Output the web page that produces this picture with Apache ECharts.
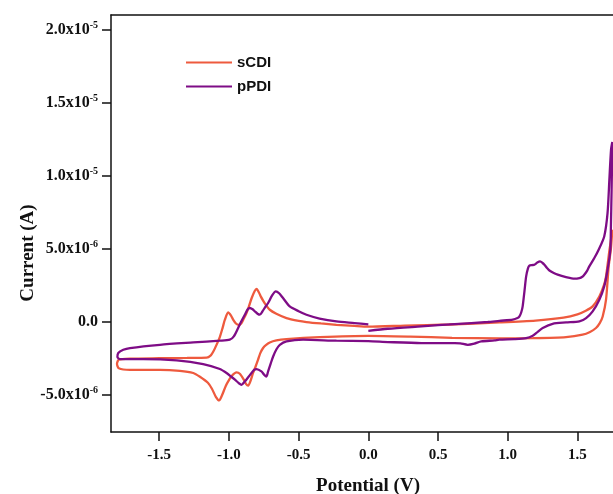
<!DOCTYPE html>
<html>
<head>
<meta charset="utf-8">
<script src="https://cdn.jsdelivr.net/npm/echarts@6/dist/echarts.min.js"></script>
<style>html,body{margin:0;padding:0;background:#fff;}#c{width:613px;height:494px;}</style>
</head>
<body>
<div id="c"></div>
<script>
// Potential (V) and current (in units of 1e-6 A)
var scdiV = [-1.794,-1.71,-1.50,-1.30,-1.16,-1.13,-1.113,-1.09,-1.065,-1.045,-1.029,-1.006,-0.985,-0.970,-0.950,-0.930,-0.912,-0.895,-0.874,-0.855,-0.836,-0.815,-0.802,-0.785,-0.770,-0.755,-0.735,-0.707,-0.66,-0.587,-0.50,-0.444,-0.34,-0.229,-0.10,0.0,0.26,0.58,0.94,1.20,1.40,1.50,1.56,1.609,1.657,1.69,1.705,1.73,1.745,1.750,
  1.740,1.724,1.705,1.681,1.66,1.633,1.59,1.537,1.418,1.179,0.94,0.60,0.30,0.0,-0.349,-0.587,-0.66,-0.707,-0.735,-0.755,-0.775,-0.791,-0.810,-0.827,-0.845,-0.862,-0.878,-0.893,-0.922,-0.946,-0.979,-1.000,-1.022,-1.051,-1.070,-1.094,-1.122,-1.151,-1.208,-1.256,-1.352,-1.495,-1.710,-1.790,-1.803,-1.794];
var scdiI = [-2.60,-2.53,-2.50,-2.48,-2.46,-2.30,-2.06,-1.60,-1.03,-0.40,0.14,0.64,0.42,0.14,-0.12,-0.22,-0.12,0.18,0.60,1.10,1.64,2.10,2.24,2.00,1.70,1.45,1.15,0.82,0.55,0.25,0.06,-0.02,-0.12,-0.21,-0.29,-0.34,-0.27,-0.19,-0.05,0.08,0.28,0.50,0.75,1.05,1.73,2.5,3.10,4.93,5.9,6.3,
  5.0,3.79,1.51,0.36,-0.10,-0.43,-0.70,-0.89,-1.05,-1.12,-1.14,-1.10,-1.02,-0.97,-1.06,-1.19,-1.28,-1.42,-1.60,-1.80,-2.15,-2.60,-3.10,-3.51,-4.05,-4.38,-4.25,-3.97,-3.56,-3.47,-3.70,-4.00,-4.38,-5.07,-5.39,-5.14,-4.59,-4.18,-3.77,-3.51,-3.36,-3.29,-3.29,-3.18,-2.88,-2.60];

var ppdiV = [0.0,0.14,0.38,0.62,0.857,0.94,1.036,1.07,1.084,1.097,1.107,1.12,1.132,1.145,1.155,1.175,1.191,1.212,1.232,1.250,1.263,1.280,1.299,1.330,1.358,1.418,1.478,1.514,1.535,1.549,1.570,1.585,1.621,1.652,1.692,1.716,1.729,1.741,1.750,
  1.745,1.740,1.736,1.716,1.692,1.657,1.609,1.562,1.514,1.418,1.322,1.251,1.215,1.179,1.132,1.048,0.940,0.905,0.81,0.76,0.713,0.66,0.62,0.38,0.14,0.0,-0.229,-0.468,-0.587,-0.635,-0.66,-0.683,-0.700,-0.719,-0.731,-0.748,-0.767,-0.802,-0.820,-0.838,-0.862,-0.886,-0.910,-0.930,-0.957,-0.985,-1.017,-1.065,-1.185,-1.375,-1.615,-1.781,-1.800,-1.794,-1.758,-1.710,-1.495,-1.256,-1.065,-0.994,-0.965,-0.934,-0.910,-0.886,-0.865,-0.850,-0.830,-0.814,-0.795,-0.779,-0.760,-0.740,-0.719,-0.690,-0.664,-0.640,-0.612,-0.564,-0.50,-0.444,-0.35,-0.229,-0.10,0.0];
var ppdiI = [-0.62,-0.48,-0.32,-0.16,-0.02,0.06,0.14,0.25,0.36,0.65,1.05,2.1,3.10,3.65,3.84,3.88,3.90,4.05,4.13,4.02,3.90,3.70,3.51,3.34,3.22,3.06,2.95,2.99,3.08,3.22,3.50,3.79,4.36,4.93,5.84,7.45,9.73,11.78,12.3,
  9.0,6.5,4.93,3.56,2.42,1.51,0.71,0.25,0.02,-0.05,-0.14,-0.43,-0.70,-0.96,-1.12,-1.19,-1.23,-1.28,-1.35,-1.50,-1.58,-1.48,-1.46,-1.46,-1.39,-1.33,-1.30,-1.23,-1.35,-1.58,-1.90,-2.38,-2.85,-3.40,-3.75,-3.62,-3.40,-3.24,-3.30,-3.51,-3.80,-4.09,-4.32,-4.20,-3.97,-3.75,-3.51,-3.24,-2.90,-2.65,-2.56,-2.56,-2.42,-2.14,-1.92,-1.80,-1.58,-1.42,-1.30,-1.23,-1.00,-0.43,0.05,0.48,0.85,0.94,0.85,0.71,0.55,0.48,0.70,1.00,1.28,1.80,2.08,1.95,1.62,1.05,0.72,0.48,0.22,0.02,-0.09,-0.18];

var xTicks = [-1.5,-1.0,-0.5,0.0,0.5,1.0,1.5];
var yTicks = [-5,0,5,10,15,20];
var seriesNames = ['sCDI','pPDI'];
var colors = ['#EE5A3E','#7E0C86'];

function zip(a,b){var r=[];for(var i=0;i<a.length;i++)r.push([a[i],b[i]]);return r;}
var serif = "'Times New Roman','Liberation Serif',serif";
var sans = "Arial,'Liberation Sans',sans-serif";

function yFmt(v){
  if (Math.abs(v) < 1e-9) return '{b|0.0}';
  var val = v*1e-6;
  var e = Math.floor(Math.log10(Math.abs(val)) + 1e-9);
  var m = val/Math.pow(10,e);
  return '{b|' + m.toFixed(1) + 'x10}{s|' + e + '}';
}

var chart = echarts.init(document.getElementById('c'), null, {renderer:'canvas'});
chart.setOption({
  animation: false,
  backgroundColor: '#fff',
  grid: {left: 111, right: 0, top: 15, bottom: 62},
  legend: {
    data: seriesNames, orient: 'vertical', left: 186, top: 55, padding: 0,
    icon: 'rect', itemWidth: 46, itemHeight: 2, itemGap: 9,
    textStyle: {fontFamily: sans, fontWeight: 'bold', fontSize: 15, color: '#111'}
  },
  xAxis: [{
    type: 'value', min: -1.846, max: 1.755, position: 'bottom',
    axisLine: {show: true, onZero: false, lineStyle: {color: '#111', width: 1.5}},
    axisTick: {show: true, length: 9, customValues: xTicks, lineStyle: {color: '#111', width: 1.5}},
    axisLabel: {customValues: xTicks, margin: 16, fontFamily: serif, fontWeight: 'bold', fontSize: 15, color: '#111',
      formatter: function(v){return v.toFixed(1);}},
    splitLine: {show: false}
  },{
    type: 'value', min: -1.846, max: 1.755, position: 'top',
    axisLine: {show: true, onZero: false, lineStyle: {color: '#111', width: 1.5}},
    axisTick: {show: false}, axisLabel: {show: false}, splitLine: {show: false}
  }],
  yAxis: {
    type: 'value', min: -7.55, max: 21.0,
    axisLine: {show: true, onZero: false, lineStyle: {color: '#111', width: 1.5}},
    axisTick: {show: true, length: 9, customValues: yTicks, lineStyle: {color: '#111', width: 1.5}},
    axisLabel: {customValues: yTicks, margin: 13, formatter: yFmt,
      rich: {
        b: {fontFamily: serif, fontWeight: 'bold', fontSize: 16, color: '#111'},
        s: {fontFamily: serif, fontWeight: 'bold', fontSize: 10, color: '#111', padding: [0,0,8,0]}
      }},
    splitLine: {show: false}
  },
  graphic: [
    {type: 'text', x: 368, y: 486, style: {text: 'Potential (V)', font: "bold 19px " + serif, fill: '#111', align: 'center', verticalAlign: 'middle'}},
    {type: 'text', x: 28, y: 253, rotation: Math.PI/2, style: {text: 'Current (A)', font: "bold 19px " + serif, fill: '#111', align: 'center', verticalAlign: 'middle'}}
  ],
  series: [
    {name: seriesNames[0], type: 'line', data: zip(scdiV, scdiI), showSymbol: false, symbol: 'none', smooth: 0.25,
      lineStyle: {color: colors[0], width: 2.3}, itemStyle: {color: colors[0]}},
    {name: seriesNames[1], type: 'line', data: zip(ppdiV, ppdiI), showSymbol: false, symbol: 'none', smooth: 0.25,
      lineStyle: {color: colors[1], width: 2.3}, itemStyle: {color: colors[1]}}
  ]
});
</script>
</body>
</html>
